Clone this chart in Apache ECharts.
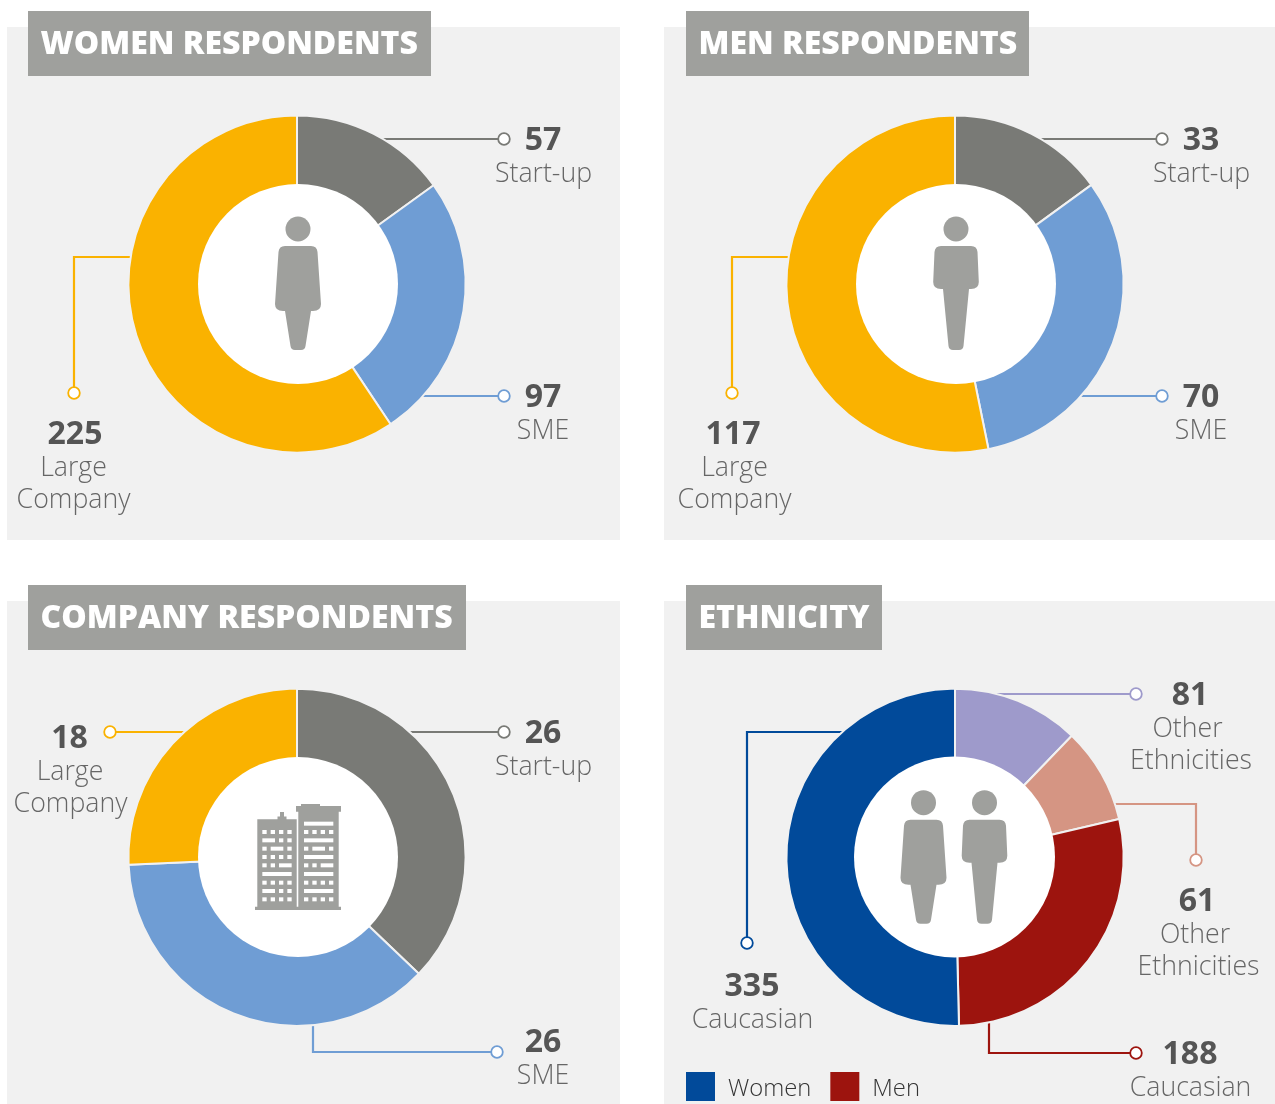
<!DOCTYPE html>
<html><head><meta charset="utf-8">
<style>html,body{margin:0;padding:0;background:#fff}#c{width:1275px;height:1104px}</style>
<script src="https://cdn.jsdelivr.net/npm/echarts@6/dist/echarts.min.js"></script>
</head><body><div id="c"></div>
<script>
// ---- data ----
const womenCategories = ['Start-up', 'SME', 'Large\nCompany'];
const womenValues = [57, 97, 225];
const menCategories = ['Start-up', 'SME', 'Large\nCompany'];
const menValues = [33, 70, 117];
const companyCategories = ['Start-up', 'SME', 'Large\nCompany'];
const companyValues = [26, 26, 18];
const ethnicityCategories = ['Other\nEthnicities', 'Other\nEthnicities', 'Caucasian', 'Caucasian'];
const ethnicitySliceNames = ['Other Ethnicities (Women)', 'Other Ethnicities (Men)', 'Men', 'Women'];
const ethnicityValues = [81, 61, 188, 335];
const legendNames = ['Women', 'Men'];

// ---- style ----
const FONT = '"Open Sans"';
const GREY = '#797a76', BLUE = '#6f9dd4', AMBER = '#fab200';
const NAVY = '#014a9a', RED = '#9d140e', LILAC = '#9e9acb', SALMON = '#d59583';
const PANEL = '#f1f1f1', TAG = '#9fa09d', ICON = '#9fa09d';
const companyColors = [GREY, BLUE, AMBER];
const ethnicityColors = [LILAC, SALMON, RED, NAVY];

const panels = [
  {title: 'WOMEN RESPONDENTS', rect: [7, 27, 613, 513], tag: [28, 11, 403, 65], c: [297, 284], hole: [298, 284], inner: 100,
   cats: womenCategories, vals: womenValues, colors: companyColors,
   calls: [
     {line: [[370,139],[498,139]], dot: [504,139], num: [543,141], lab: [[543.5,174]]},
     {line: [[405,396],[498,396]], dot: [504,396], num: [543,398], lab: [[543,431]]},
     {line: [[150,257],[74,257],[74,387]], dot: [74,393], num: [75,435], lab: [[73.5,468],[73.5,500]]}
   ]},
  {title: 'MEN RESPONDENTS', rect: [664, 27, 611, 513], tag: [686, 11, 343, 65], c: [955, 284], hole: [956, 284], inner: 100,
   cats: menCategories, vals: menValues, colors: companyColors,
   calls: [
     {line: [[1025,139],[1156,139]], dot: [1162,139], num: [1201,141], lab: [[1201.5,174]]},
     {line: [[1060,396],[1156,396]], dot: [1162,396], num: [1201,398], lab: [[1201,431]]},
     {line: [[805,257],[732,257],[732,387]], dot: [732,393], num: [733,435], lab: [[734.5,468],[734.5,500]]}
   ]},
  {title: 'COMPANY RESPONDENTS', rect: [7, 601, 613, 503], tag: [28, 585, 438, 65], c: [297, 857.3], hole: [298, 857], inner: 100,
   cats: companyCategories, vals: companyValues, colors: companyColors,
   calls: [
     {line: [[395,732],[498,732]], dot: [504,732], num: [543,734], lab: [[543.5,767]]},
     {line: [[313,1010],[313,1052],[491,1052]], dot: [497,1052], num: [543,1043], lab: [[543,1076]]},
     {line: [[205,732],[116,732]], dot: [110,732], num: [69.5,739], lab: [[70,772],[70.5,804]]}
   ]},
  {title: 'ETHNICITY', rect: [664, 601, 611, 503], tag: [686, 585, 196, 65], c: [955, 857.3], hole: [954.5, 857], inner: 100.5,
   cats: ethnicityCategories, vals: ethnicityValues, colors: ethnicityColors, names: ethnicitySliceNames,
   calls: [
     {line: [[960,694],[1130,694]], dot: [1136,694], num: [1190,696], lab: [[1187.5,729],[1191,761]]},
     {line: [[1095,804],[1196,804],[1196,854]], dot: [1196,860], num: [1197,902], lab: [[1195,935],[1198.5,967]]},
     {line: [[989,1010],[989,1053],[1130,1053]], dot: [1136,1053], num: [1190,1055], lab: [[1190.5,1088]]},
     {line: [[865,732],[747,732],[747,937]], dot: [747,943], num: [752,987], lab: [[752.5,1020]]}
   ]}
];

const WOMAN = 'M-13,17Q-19,17-19.5,23L-23,75Q-23,82-15,82L-13,82L-7.5,117Q-7,121-3,121L3,121Q7,121 7.5,117L13,82L15,82Q23,82 23,75L19.5,23Q19,17 13,17Z';
const MAN = 'M-15,17Q-21,17-21.5,23L-22.8,53Q-22.8,60-15,60L-13,60L-7.5,117Q-7,121-3,121L3,121Q7,121 7.5,117L13,60L15,60Q22.8,60 22.8,53L21.5,23Q21,17 15,17Z';
const BUILDING = 'M255,906.7H257.3V819.3H277.5V816.5H280V812H284V816.5H286.5V819.3H296.7V906.7H298.3V811.7H296V806H301V804H320V806H341V811.7H338.7V906.7H341V910H255Z';
echarts.graphic.registerShape('iconWoman', echarts.graphic.extendPath(WOMAN, {}));
echarts.graphic.registerShape('iconMan', echarts.graphic.extendPath(MAN, {}));
echarts.graphic.registerShape('iconBuilding', echarts.graphic.extendPath(BUILDING, {}));

const g = [];
function person(kind, x, y) {
  g.push({type: 'circle', z: 11, silent: true, shape: {cx: x, cy: y, r: 12.5}, style: {fill: ICON}});
  g.push({type: kind, z: 11, silent: true, x: x, y: y, style: {fill: ICON}});
}
function win(x0, x1, y0, h) {
  g.push({type: 'rect', z: 12, silent: true, shape: {x: 240 + x0 / 3, y: 790 + y0 / 3, width: (x1 - x0) / 3, height: h / 3}, style: {fill: '#fff'}});
}
// Window pattern of the tower icon (s = square, w = wide, f = full width)
const rowY = [120, 145, 170, 195, 220, 246, 272, 297, 322];
const leftRows = ['ssss', 'wss', 'sws', 'ssss', 'ssw', 'f', 'ssss', 'wss', 'ssss'];
const rightRows = ['ssss', 'f', 'sws', 'f', 'ssw', 'f', 'ssss', 'f', 'ssss'];
function towerRows(rows, x0) {
  rows.forEach((r, i) => {
    let col = 0;
    for (const ch of r) {
      const span = ch === 's' ? 1 : ch === 'f' ? 4 : 2;
      win(x0 + col * 25, x0 + (col + span) * 25 - 12, rowY[i], 12);
      col += span;
    }
  });
}

panels.forEach(p => {
  g.push({type: 'rect', z: 0, silent: true, shape: {x: p.rect[0], y: p.rect[1], width: p.rect[2], height: p.rect[3]}, style: {fill: PANEL}});
  g.push({type: 'rect', z: 9, silent: true, shape: {x: p.tag[0], y: p.tag[1], width: p.tag[2], height: p.tag[3]}, style: {fill: TAG}});
  g.push({type: 'text', z: 10, silent: true, x: p.tag[0] + 12.5, y: p.tag[1] + 34, style: {text: p.title, fill: '#fff', font: '800 32px ' + FONT, verticalAlign: 'middle', align: 'left'}});
  g.push({type: 'circle', z: 10, silent: true, shape: {cx: p.hole[0], cy: p.hole[1], r: p.inner}, style: {fill: '#fff'}});
  p.calls.forEach((k, i) => {
    const col = p.colors[i];
    g.push({type: 'polyline', z: 1, silent: true, shape: {points: k.line}, style: {stroke: col, lineWidth: 2.2, fill: 'none'}});
    g.push({type: 'circle', z: 1, silent: true, shape: {cx: k.dot[0], cy: k.dot[1], r: 5.8}, style: {fill: '#fff', stroke: col, lineWidth: 1.8}});
    g.push({type: 'text', z: 10, silent: true, x: k.num[0], y: k.num[1], style: {text: String(p.vals[i]), fill: '#555555', font: '700 32px ' + FONT, align: 'center', verticalAlign: 'middle'}});
    p.cats[i].split('\n').forEach((line, j) => {
      g.push({type: 'text', z: 10, silent: true, x: k.lab[j][0], y: k.lab[j][1], style: {text: line, fill: '#666666', font: '300 26.7px ' + FONT, align: 'center', verticalAlign: 'middle'}});
    });
  });
});

person('iconWoman', 298, 229);
person('iconMan', 956, 229);
person('iconWoman', 923.5, 802.7);
person('iconMan', 984.5, 802.7);
g.push({type: 'iconBuilding', z: 11, silent: true, style: {fill: ICON}});
towerRows(leftRows, 67);
towerRows(rightRows, 192);
win(192, 280, 95, 12);

const chart = echarts.init(document.getElementById('c'), null, {renderer: 'canvas'});
chart.setOption({
  animation: false,
  backgroundColor: '#fff',
  legend: {
    left: 686, top: 1072, padding: 0, orient: 'horizontal', itemWidth: 29, itemHeight: 29, itemGap: 19,
    icon: 'rect', data: legendNames, selectedMode: false, z: 20,
    itemStyle: {borderWidth: 0},
    formatter: name => '{t|' + name + '}',
    textStyle: {
      fontFamily: FONT, fontSize: 23.8, fontWeight: 300, color: '#333',
      rich: {t: {fontFamily: FONT, fontSize: 23.8, fontWeight: 300, color: '#333', padding: [6, 0, 0, 8]}}
    }
  },
  graphic: {elements: g},
  series: panels.map(p => ({
    type: 'pie', z: 2, center: p.c, radius: [p.inner - 10, 168.6], startAngle: 90, clockwise: true,
    silent: true, label: {show: false}, labelLine: {show: false},
    itemStyle: {borderColor: PANEL, borderWidth: 2},
    data: p.vals.map((v, i) => ({value: v, name: p.names ? p.names[i] : p.cats[i].replace('\n', ' '), itemStyle: {color: p.colors[i]}}))
  }))
});
</script></body></html>
